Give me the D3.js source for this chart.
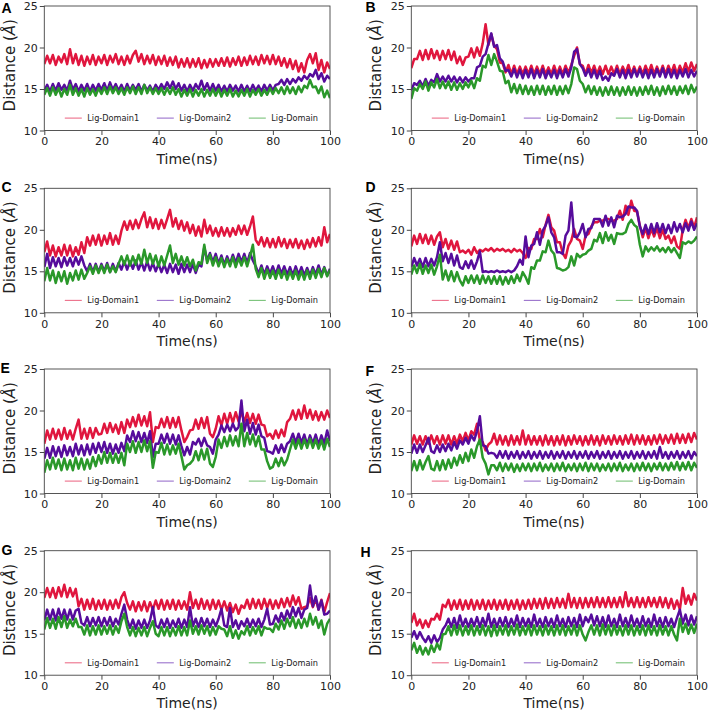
<!DOCTYPE html>
<html><head><meta charset="utf-8">
<script src="https://cdn.jsdelivr.net/npm/d3@7"></script>
<style>body{margin:0;background:#fff}svg{display:block}</style>
</head><body>
<svg id="chart" width="708" height="712"></svg>
<script>
// ---------- categories / labels ----------
const seriesNames = ["Lig-Domain1", "Lig-Domain2", "Lig-Domain"];
const panelLetters = ["A", "B", "C", "D", "E", "F", "G", "H"];
const xTickValues = [0, 20, 40, 60, 80, 100];
const yTickValues = [10, 15, 20, 25];
const timeNs = d3.range(0, 101); // 1 ns sampling, 0..100 ns

// ---------- series values (Å) (noisy traces) ----------
const A_domain1 = [18.0,19.0,18.1,19.1,17.9,18.9,18.2,19.2,18.0,19.8, 18.1,19.2,17.9,19.0,17.8,18.9,18.0,19.1,17.9,18.9, 18.1,19.1,17.9,19.0,18.2,19.2,18.0,18.9,17.9,19.0, 18.1,19.1,19.6,18.3,19.2,18.0,19.0,18.1,19.1,17.9, 18.9,18.0,19.0,17.8,18.8,17.9,18.9,17.6,18.6,17.7, 18.7,17.6,18.6,17.7,18.7,17.5,18.5,17.6,18.6,17.7, 18.6,17.8,18.7,17.8,18.8,17.7,18.7,17.9,18.9,17.8, 18.8,17.9,19.0,18.0,18.9,17.9,19.1,18.1,19.0,18.0, 19.1,18.0,18.9,17.8,18.7,17.6,18.6,17.4,18.4,17.1, 18.1,17.0,18.5,19.2,18.1,19.3,17.3,18.5,17.0,18.2, 17.4];
const A_domain2 = [14.8,15.5,14.7,15.6,14.8,15.7,14.9,15.5,14.8,16.0, 14.9,15.6,14.7,15.5,14.8,15.6,14.7,15.5,14.8,15.6, 14.9,15.7,14.8,15.8,14.9,15.6,14.8,15.5,14.7,15.6, 14.8,15.5,14.9,15.6,14.7,15.5,14.8,15.4,14.7,15.5, 14.9,15.6,15.0,15.8,15.1,15.9,15.0,15.7,14.8,15.5, 14.7,15.5,14.8,15.6,15.0,16.0,14.9,15.7,14.8,15.6, 14.8,15.5,14.7,15.4,14.7,15.5,14.8,15.4,14.7,15.5, 14.7,15.4,14.7,15.5,14.8,15.4,14.7,15.5,14.8,15.5, 14.8,15.5,15.6,16.1,15.5,16.2,15.6,16.2,15.8,16.4, 16.0,16.6,16.2,16.8,16.5,17.3,16.2,16.9,15.9,16.6, 16.2];
const A_domain = [14.3,15.1,14.2,15.2,14.3,15.1,14.1,15.0,14.3,15.5, 14.3,15.1,14.2,15.0,14.1,15.1,14.3,15.0,14.2,15.1, 14.4,15.2,14.4,15.3,14.5,15.2,14.4,15.1,14.3,15.2, 14.5,15.3,14.4,15.2,14.4,15.5,14.5,15.2,14.4,15.1, 14.4,15.1,14.3,15.1,14.4,15.2,14.3,15.0,14.1,14.9, 14.2,15.0,14.1,14.9,14.2,15.0,14.1,14.9,14.2,15.0, 14.2,15.0,14.1,14.9,14.2,15.0,14.1,14.8,14.1,14.9, 14.2,15.0,14.1,14.9,14.3,15.0,14.2,14.9,14.3,15.1, 14.4,15.1,14.5,15.2,14.4,15.3,14.5,15.2,14.4,15.3, 14.6,15.4,15.1,16.1,15.2,15.3,14.5,15.3,14.0,14.8, 13.9];

const B_domain1 = [17.5,18.6,18.6,19.6,18.5,19.7,18.6,19.8,18.7,19.6, 18.5,19.6,18.6,19.7,18.5,19.5,18.1,18.9,17.9,18.8, 18.9,19.9,18.8,20.0,19.0,20.5,22.8,20.3,21.6,20.2, 19.8,18.2,18.1,17.0,17.9,16.8,17.8,16.8,17.7,16.8, 17.7,16.8,17.8,16.8,17.7,16.8,17.8,16.8,17.6,16.8, 17.8,16.8,17.7,16.8,17.8,16.9,17.9,19.0,20.0,18.0, 17.8,16.8,17.9,16.9,17.8,16.8,17.7,16.8,17.8,16.8, 17.7,16.8,17.8,16.8,17.7,16.9,17.9,16.8,17.7,16.8, 17.7,16.8,17.8,16.9,17.9,16.8,17.7,16.8,17.8,16.8, 17.8,16.9,17.9,16.8,17.8,17.0,18.1,17.1,18.2,17.2, 18.0];
const B_domain2 = [14.8,15.7,15.5,16.0,15.3,16.2,15.4,16.1,15.8,16.8, 15.9,16.5,15.9,16.6,15.9,16.5,15.8,16.4,15.8,16.4, 15.9,16.3,16.3,17.6,17.8,18.9,19.2,20.5,21.7,20.1, 20.3,18.7,18.3,17.2,17.3,16.5,17.4,16.4,17.3,16.3, 17.3,16.4,17.4,16.3,17.3,16.4,17.4,16.3,17.2,16.4, 17.3,16.3,17.3,16.4,17.4,16.5,17.6,19.5,19.8,18.0, 17.5,16.6,17.4,16.4,17.3,16.3,17.2,16.1,16.5,16.0, 16.9,16.6,17.4,16.4,17.3,16.3,17.3,16.4,17.4,16.5, 17.4,16.4,17.3,16.3,17.3,16.4,17.4,16.5,17.5,16.4, 17.4,16.4,17.3,16.3,17.3,16.5,17.4,16.4,17.3,16.5, 17.2];
const B_domain = [13.8,15.1,14.8,15.6,15.0,15.9,14.8,15.8,15.2,16.2, 15.1,15.9,15.1,15.9,14.9,15.8,14.9,15.7,15.0,15.8, 15.2,16.0,15.1,16.3,16.0,17.8,17.6,19.1,17.9,19.2, 18.3,17.2,17.1,15.7,16.0,14.6,15.6,14.5,15.5,14.4, 15.4,14.4,15.3,14.3,15.4,14.4,15.4,14.3,15.3,14.4, 15.4,14.3,15.3,14.4,15.4,14.5,15.6,17.6,17.4,16.0, 15.6,14.6,15.4,14.4,15.3,14.3,15.2,14.2,15.2,14.3, 15.3,14.3,15.2,14.2,15.2,14.3,15.3,14.3,15.2,14.2, 15.2,14.3,15.3,14.4,15.4,14.3,15.2,14.2,15.3,14.4, 15.4,14.4,15.3,14.3,15.3,14.5,15.4,14.4,15.5,14.6, 15.3];

const C_domain1 = [17.3,18.6,16.9,18.1,16.8,17.9,16.9,18.2,16.9,18.1, 16.8,17.9,17.0,18.5,17.2,19.1,18.1,19.3,18.2,19.4, 18.1,19.3,18.3,19.6,18.2,19.3,18.3,19.9,21.0,20.0, 21.1,20.1,21.2,20.2,21.3,22.1,20.3,21.5,20.2,21.3, 20.1,21.2,20.2,21.3,22.4,20.4,21.4,20.1,21.1,19.9, 20.9,19.6,20.6,19.3,20.4,19.2,21.2,19.6,20.5,19.3, 20.2,19.2,20.3,19.3,20.2,19.2,20.2,19.4,20.5,19.5, 20.5,19.4,20.4,21.6,18.8,18.2,19.1,18.0,19.0,17.9, 18.9,17.9,19.1,18.0,18.9,17.8,18.8,17.9,18.9,17.8, 18.7,17.7,18.8,17.9,19.0,18.0,19.1,18.1,20.3,18.5, 19.5];
const C_domain2 = [15.5,17.1,15.4,16.7,15.6,16.6,15.5,16.7,15.7,16.6, 15.6,16.7,15.8,16.8,15.7,15.0,15.9,14.9,15.9,14.9, 15.9,15.0,16.0,14.9,15.9,15.0,16.0,15.2,16.2,15.2, 16.2,15.3,16.3,15.2,16.1,15.1,16.2,15.1,16.0,15.0, 15.9,14.9,15.8,14.8,15.9,14.9,15.8,14.7,15.9,14.9, 15.8,14.9,15.9,14.8,15.8,15.6,17.9,16.3,17.2,16.1, 17.1,15.9,16.9,15.8,16.8,15.9,17.0,16.0,17.1,16.1, 17.1,16.0,17.2,16.3,15.6,14.7,15.7,14.6,15.6,14.7, 15.6,14.6,15.7,14.7,15.6,14.6,15.5,14.5,15.6,14.6, 15.5,14.5,15.4,14.5,15.5,14.6,15.7,14.6,15.5,14.5, 15.3];
const C_domain = [13.8,15.4,13.9,15.1,13.6,14.9,13.8,15.0,13.5,14.8, 13.9,15.1,14.0,15.2,14.1,14.8,15.6,14.7,15.7,14.8, 15.7,14.8,15.8,14.9,15.6,14.9,15.9,16.8,15.8,16.9, 15.7,16.8,15.8,17.0,15.9,17.6,16.0,17.1,15.9,16.9, 15.6,16.8,15.7,16.9,18.1,16.0,17.1,15.8,16.8,15.7, 16.7,15.6,16.4,15.1,16.1,15.9,18.2,16.0,17.0,15.7, 16.7,15.6,16.6,15.5,16.5,15.6,16.7,15.5,16.6,15.7, 16.7,15.6,16.8,18.2,15.3,14.3,15.4,14.1,15.2,14.2, 15.1,14.1,15.2,14.2,15.1,14.0,15.0,14.1,15.1,14.0, 15.0,14.0,15.1,14.1,15.2,14.2,15.3,14.3,15.4,14.4, 15.2];

const D_domain1 = [18.0,19.3,18.3,19.5,18.4,19.4,18.3,19.3,18.2,19.2, 19.7,17.9,18.9,17.7,18.7,17.6,18.6,17.3,17.5,17.2, 17.6,17.0,17.9,17.2,17.6,17.4,17.7,17.5,17.8,17.4, 17.7,17.5,17.7,17.4,17.6,17.3,17.7,17.4,17.6,17.2, 16.6,17.8,17.7,18.9,18.9,20.1,19.1,20.6,21.8,20.3, 19.9,18.5,18.5,17.2,16.6,18.1,18.7,20.1,18.9,18.7, 17.7,19.3,19.5,20.4,20.9,20.9,21.1,21.1,21.3,21.3, 21.1,21.1,21.3,22.3,21.2,22.9,21.8,23.5,22.3,22.2, 20.5,19.1,20.2,19.0,20.1,19.2,20.2,19.0,20.0,18.9, 19.3,18.4,19.2,18.0,17.7,20.0,21.2,20.2,21.3,20.3, 21.5];
const D_domain2 = [15.5,16.6,15.7,16.5,15.5,16.6,15.6,16.5,15.7,16.7, 18.5,16.2,17.2,16.0,17.1,15.7,16.9,15.5,15.3,16.2, 15.4,16.3,15.3,16.2,17.4,14.9,15.0,14.9,15.0,14.9, 15.1,14.9,15.0,14.9,15.1,14.9,15.1,15.6,16.4,15.8, 19.2,16.7,18.1,18.3,19.7,18.2,19.9,20.5,21.5,19.7, 19.1,17.3,17.3,17.1,19.3,19.9,23.3,19.2,19.1,19.7, 20.7,19.1,20.1,20.2,21.3,21.3,21.3,20.4,21.7,20.5, 21.5,20.3,21.7,21.5,21.6,21.9,22.8,22.7,22.7,22.3, 20.4,19.5,20.6,19.5,20.7,19.6,20.8,19.7,20.7,19.6, 20.6,19.6,20.9,19.8,20.7,19.7,20.8,19.9,21.0,20.0, 20.8];
const D_domain = [14.6,15.7,14.8,15.9,14.7,15.7,14.8,15.8,14.6,15.6, 17.0,14.0,15.1,13.9,15.0,13.8,14.9,13.9,13.3,14.4, 13.6,14.5,13.6,14.5,13.5,14.5,13.6,14.4,13.5,14.4, 13.5,14.4,13.4,14.3,13.5,14.4,13.6,14.6,13.8,14.9, 14.3,13.5,15.5,15.3,16.3,16.3,17.4,17.3,18.7,17.5, 17.1,15.4,15.3,15.1,15.2,15.5,16.8,15.7,17.1,16.7, 17.0,17.1,17.5,17.7,18.8,18.6,19.6,18.4,19.7,18.7, 19.4,18.3,19.6,19.5,19.5,19.7,20.7,21.2,20.6,20.3, 18.2,16.8,18.0,17.4,17.9,17.5,18.0,17.4,17.8,17.3, 17.9,17.3,17.8,17.2,16.6,18.5,18.3,18.6,18.4,18.7, 19.2];

const E_domain1 = [16.0,17.6,16.5,17.8,16.6,17.7,16.5,17.9,16.6,17.6, 16.5,17.8,18.9,16.6,17.8,16.6,17.9,16.7,17.9,17.1, 17.2,18.4,17.3,18.5,17.4,18.3,17.2,18.6,17.3,18.9, 18.0,19.2,18.1,19.5,18.2,19.3,18.1,19.8,16.2,18.0, 17.9,19.0,18.0,19.2,17.9,19.1,18.0,19.2,17.6,16.2, 16.8,17.6,17.7,18.9,17.8,19.1,17.9,19.2,17.2,16.8, 17.8,19.3,18.2,19.6,18.4,19.7,18.5,19.8,18.7,19.9, 18.6,19.7,18.5,19.6,18.4,19.5,18.3,18.2,16.9,17.2, 16.6,17.6,16.7,17.7,16.9,18.6,19.0,20.0,18.9,20.1, 19.0,20.6,19.1,20.1,18.9,19.9,18.8,19.8,18.9,20.0, 19.1];
const E_domain2 = [14.2,15.5,14.3,15.7,14.5,15.6,14.4,15.8,14.6,15.6, 14.5,16.0,14.7,15.8,14.6,15.9,14.7,16.0,14.9,16.1, 15.0,16.2,14.9,16.0,14.8,15.9,14.9,16.1,15.1,17.0, 16.2,17.5,16.3,17.4,16.2,17.3,16.1,17.5,14.4,16.0, 16.0,17.1,16.1,17.2,16.0,17.1,15.9,17.0,15.7,14.6, 15.6,14.7,16.2,15.9,16.6,15.7,16.7,15.8,15.6,14.8, 16.5,17.1,18.2,17.4,18.3,17.5,18.4,17.6,18.0,21.2, 17.5,18.9,17.2,18.5,17.1,18.3,16.9,16.7,15.1,15.0, 14.8,15.8,14.9,15.9,15.0,16.0,16.3,17.2,16.1,17.2, 16.1,17.1,15.9,17.0,16.0,17.1,15.9,17.0,16.0,17.6, 16.3];
const E_domain = [12.5,14.0,12.9,14.3,13.0,14.1,12.8,14.2,12.9,14.0, 12.8,14.3,13.0,14.2,12.9,14.1,13.0,14.4,13.3,14.6, 13.6,15.0,13.7,14.9,13.7,14.8,13.7,14.9,13.4,16.0, 15.0,16.3,14.9,16.2,15.0,16.4,15.1,16.3,13.1,15.0, 14.9,16.1,14.7,15.9,14.7,15.8,14.8,16.0,14.5,12.9, 13.4,13.6,14.0,15.1,14.0,15.3,14.1,15.4,13.6,13.2, 14.4,16.5,15.5,16.8,15.7,17.0,15.8,16.9,15.7,18.4, 15.7,17.3,15.9,17.1,15.7,16.9,15.3,15.3,13.9,13.0, 13.2,14.2,13.3,14.3,13.4,14.1,15.3,16.5,15.4,16.5, 15.4,16.5,15.5,16.6,15.5,16.5,15.4,16.4,15.3,16.6, 15.6];

const F_domain1 = [15.9,17.0,16.0,16.9,15.9,16.9,16.0,17.0,16.0,16.9, 15.9,17.0,16.0,17.0,15.9,16.9,16.0,17.1,16.3,17.3, 16.4,17.5,17.1,18.4,16.4,16.2,15.2,15.9,16.2,17.2, 15.9,17.0,15.9,16.9,15.8,17.0,15.9,16.9,15.9,17.6, 15.9,17.0,15.9,16.9,15.9,16.9,15.8,17.0,15.9,16.9, 15.8,16.9,15.9,17.0,15.8,16.9,15.9,17.0,16.0,16.9, 15.8,16.9,15.9,17.0,15.9,16.9,15.8,17.0,16.0,16.9, 15.9,17.0,16.0,16.9,15.9,17.0,16.0,17.1,15.9,17.0, 16.0,17.0,15.9,16.9,15.9,17.0,16.0,17.1,16.0,17.0, 16.1,17.1,16.0,17.2,16.1,17.1,16.1,17.2,16.2,17.3, 16.5];
const F_domain2 = [14.8,15.9,14.9,15.9,15.0,15.8,16.7,15.1,14.9,15.8, 15.0,15.9,15.1,16.0,15.2,16.2,15.4,16.4,15.9,16.7, 16.0,17.0,16.4,17.5,19.3,15.8,15.7,14.8,14.9,14.8, 14.3,15.1,14.3,15.1,14.2,15.0,14.3,15.1,14.2,15.0, 14.3,15.1,14.2,15.0,14.3,15.1,14.2,15.0,14.3,15.1, 14.2,15.0,14.3,15.1,14.2,15.0,14.3,15.1,14.2,15.0, 14.3,15.1,14.2,15.0,14.3,15.1,14.2,15.0,14.3,15.1, 14.2,15.0,14.3,15.1,14.2,15.0,14.3,15.1,14.2,15.0, 14.3,15.1,14.2,15.0,14.3,15.1,14.2,15.6,14.3,15.0, 14.2,15.0,14.3,15.1,14.2,15.0,14.3,15.1,14.2,15.0, 14.5];
const F_domain = [12.7,13.9,12.8,14.0,12.9,13.8,14.5,13.0,12.8,13.9, 12.8,14.0,12.9,14.1,13.1,14.3,13.4,14.6,13.7,14.9, 13.9,15.3,14.3,15.7,16.5,14.3,13.6,12.3,13.4,13.4, 12.8,13.7,12.7,13.6,12.8,13.6,12.6,13.5,12.7,13.6, 12.8,13.6,12.7,13.6,12.8,13.7,12.7,13.5,12.8,13.6, 12.7,13.6,12.8,13.7,12.7,13.5,12.8,13.6,12.7,13.6, 12.8,13.7,12.7,13.6,12.8,13.6,12.7,13.5,12.8,13.6, 12.7,13.6,12.8,13.7,12.7,13.5,12.8,13.6,12.7,13.6, 12.8,13.7,12.8,13.6,12.7,13.6,12.9,13.7,12.8,13.6, 12.8,13.7,12.9,13.8,12.8,13.7,12.9,13.8,12.8,13.7, 13.1];

const G_domain1 = [19.3,20.5,19.4,20.5,19.3,20.6,19.5,20.9,19.4,20.5, 19.5,20.4,18.3,19.2,17.9,19.1,18.0,19.2,17.9,19.0, 18.0,19.1,17.9,19.0,18.0,19.1,18.1,19.4,20.0,18.7, 17.9,18.9,17.7,18.8,17.8,18.9,17.7,18.8,17.9,19.0, 18.0,19.1,17.9,19.0,18.0,19.1,17.9,19.0,18.0,18.9, 17.9,20.0,18.1,19.1,18.0,19.2,18.0,19.0,17.9,19.1, 18.0,19.0,17.9,18.9,17.8,18.7,17.6,18.5,17.4,18.4, 18.1,19.1,18.0,19.2,18.1,19.1,18.0,19.2,18.1,19.1, 18.0,19.0,18.1,19.2,18.2,19.3,18.3,19.6,18.5,19.4, 18.0,18.2,18.3,19.3,18.2,19.2,17.9,19.1,17.6,18.8, 19.9];
const G_domain2 = [16.6,17.9,16.7,17.9,16.6,18.0,16.8,17.9,16.7,17.9, 16.7,17.8,18.0,16.3,16.0,17.0,15.9,16.9,16.0,17.0, 15.9,16.9,16.0,17.0,15.9,16.8,16.1,17.4,18.5,16.7, 15.7,16.7,15.6,16.6,15.7,16.7,15.7,16.6,18.2,16.0, 15.7,16.7,15.8,16.8,15.7,16.6,15.8,16.8,15.7,16.7, 15.8,18.2,15.9,16.8,15.8,16.9,15.9,16.8,15.8,16.7, 15.9,16.8,18.0,16.0,15.8,18.1,15.8,16.6,15.6,16.5, 15.9,16.8,15.8,16.7,15.9,16.8,15.8,16.7,18.0,16.1, 16.2,17.2,16.4,17.5,16.6,17.8,16.9,18.2,17.1,18.1, 16.9,17.9,18.1,20.8,18.3,19.5,17.9,19.0,17.3,17.4, 17.8];
const G_domain = [15.5,16.9,15.7,16.8,15.6,17.0,15.8,17.1,15.7,16.7, 15.9,16.8,15.8,15.8,14.9,16.0,14.8,15.9,14.9,16.0, 14.9,15.9,15.0,16.0,14.9,15.9,15.1,16.5,17.4,15.8, 14.8,15.8,14.7,15.7,14.8,15.8,14.7,15.7,16.5,15.0, 14.7,15.8,14.8,15.8,14.7,15.7,14.8,15.9,14.8,15.8, 14.8,16.6,15.0,15.9,14.9,16.0,15.0,15.9,14.8,15.8, 14.9,15.9,15.6,15.5,14.7,15.9,14.5,15.4,14.4,15.3, 14.9,15.9,14.8,15.8,15.0,15.9,14.8,15.8,15.6,15.6, 15.2,16.2,15.5,16.6,15.6,16.8,15.9,17.0,15.7,16.7, 15.7,16.8,15.9,17.4,16.1,17.0,15.7,16.6,14.9,16.2, 16.8];

const H_domain1 = [16.3,17.4,16.0,16.7,15.7,16.6,15.8,16.8,16.7,17.4, 16.7,18.5,18.2,19.1,17.9,19.0,18.0,19.1,17.9,19.0, 18.0,19.1,17.9,19.0,18.0,19.1,17.9,19.0,18.0,19.1, 17.9,19.0,18.0,19.1,17.9,19.0,18.0,19.1,17.9,19.0, 18.0,19.1,18.0,19.2,18.1,19.2,18.0,19.3,18.1,19.2, 18.1,19.3,18.2,19.2,18.1,19.8,18.2,19.3,18.1,19.3, 18.1,19.3,18.2,19.3,18.2,19.4,18.2,19.3,18.2,19.4, 18.2,19.3,18.2,19.4,18.2,20.0,18.3,19.3,18.2,19.4, 18.2,19.3,18.2,19.4,18.3,19.3,18.2,19.4,18.2,19.3, 18.1,19.2,18.0,19.0,17.9,20.5,18.6,19.6,18.5,19.8, 19.0];
const H_domain2 = [14.5,15.3,14.4,15.2,14.5,14.0,14.7,13.9,14.8,14.0, 14.5,15.5,16.0,16.8,15.8,16.9,15.7,17.2,15.9,16.8, 15.8,16.8,15.9,17.0,15.8,16.9,15.9,17.4,15.8,16.8, 15.8,16.9,15.9,17.0,15.8,16.8,15.9,17.2,15.8,16.9, 15.9,16.8,15.8,17.3,15.9,16.8,15.8,17.0,15.9,16.8, 15.8,17.2,15.9,16.8,15.8,17.0,15.9,16.9,15.8,17.3, 15.9,17.0,16.4,17.3,16.0,17.1,15.9,17.0,15.8,17.2, 15.9,16.8,15.8,17.3,15.9,16.9,15.8,17.2,15.9,16.8, 15.8,17.1,15.9,16.8,15.8,17.3,15.9,16.9,15.8,17.0, 15.9,16.8,15.8,16.9,17.9,16.2,17.3,16.0,17.2,16.1, 17.1];
const H_domain = [13.0,13.9,12.7,13.5,12.5,13.3,12.5,13.6,12.8,13.8, 13.1,14.9,15.0,15.9,14.8,16.0,14.9,16.0,14.8,15.9, 14.9,16.0,14.8,15.9,14.9,16.0,14.8,15.9,14.7,16.0, 14.8,15.9,14.9,16.0,14.8,15.9,14.9,16.1,14.8,15.9, 14.9,16.0,14.8,16.0,14.9,15.9,14.8,16.0,14.9,15.9, 14.8,16.0,14.9,16.0,14.8,15.9,14.9,16.0,14.8,16.0, 14.9,14.2,15.2,16.0,14.9,16.0,14.8,16.1,14.9,16.0, 14.8,16.0,14.9,15.9,14.8,16.0,14.9,16.0,14.8,15.9, 14.9,16.0,14.8,16.0,14.9,15.9,14.8,16.0,14.9,15.9, 14.8,15.9,14.9,14.2,16.8,15.2,16.2,15.0,16.1,15.1, 16.2];

// ---------- assemble panels from the arrays ----------
const panelSeries = [
  [A_domain1, A_domain2, A_domain], [B_domain1, B_domain2, B_domain],
  [C_domain1, C_domain2, C_domain], [D_domain1, D_domain2, D_domain],
  [E_domain1, E_domain2, E_domain], [F_domain1, F_domain2, F_domain],
  [G_domain1, G_domain2, G_domain], [H_domain1, H_domain2, H_domain]
];

// ---------- styling / layout ----------
const colors = ["#e0163e", "#560c9c", "#2a982a"];
const legendColors = ["#ec6f8a", "#9a72cc", "#79c279"];
const colLeft = [44.3, 411.3];
const rowTop = [6, 188.3, 369, 550.7];
const plotW = 285.7, plotH = 124.5;
const yLabelX = [10, 376];
const letterX = [1.5, 365.5, 1.5, 365.5, 0.5, 365.5, 1.5, 360.5];
const letterDy = [6.7, 5.7, 3.6, 4.0, 3.7, 7.0, 4.3, 6.0];
const fontFam = "'DejaVu Sans', sans-serif";

const svg = d3.select("#chart");

panelSeries.forEach((series, i) => {
  const col = i % 2, row = Math.floor(i / 2);
  const left = colLeft[col], top = rowTop[row];
  const g = svg.append("g").attr("transform", `translate(${left},${top})`);

  const x = d3.scaleLinear().domain([0, 100]).range([0, plotW]);
  const y = d3.scaleLinear().domain([10, 25]).range([plotH, 0]);

  // data lines (clipped to plot)
  const clipId = "clip" + i;
  g.append("clipPath").attr("id", clipId).append("rect")
    .attr("width", plotW).attr("height", plotH);
  const line = d3.line().x((d, k) => x(timeNs[k])).y(d => y(d));
  const lg = g.append("g").attr("clip-path", `url(#${clipId})`);
  series.forEach((vals, s) => {
    lg.append("path").datum(vals)
      .attr("fill", "none").attr("stroke", colors[s])
      .attr("stroke-width", 2.5).attr("stroke-linejoin", "round")
      .attr("d", line);
  });

  // axes
  const xAxis = g.append("g").attr("transform", `translate(0,${plotH})`)
    .call(d3.axisBottom(x).tickValues(xTickValues).tickSize(4.5).tickPadding(2.5).tickSizeOuter(0));
  const yAxis = g.append("g")
    .call(d3.axisLeft(y).tickValues(yTickValues).tickSize(4.5).tickPadding(2).tickSizeOuter(0));
  [xAxis, yAxis].forEach(a => {
    a.select(".domain").remove();
    a.selectAll("line").attr("stroke", "#333").attr("stroke-width", 0.9);
    a.selectAll("text").attr("fill", "#222").style("font-family", fontFam).style("font-size", "11px");
  });

  // frame
  g.append("rect").attr("width", plotW).attr("height", plotH)
    .attr("fill", "none").attr("stroke", "#444").attr("stroke-width", 0.9);

  // axis titles
  g.append("text").attr("x", plotW / 2).attr("y", plotH + 33)
    .attr("text-anchor", "middle").attr("fill", "#222")
    .style("font-family", fontFam).style("font-size", "14px")
    .text("Time(ns)");
  const yl = svg.append("text")
    .attr("transform", `translate(${yLabelX[col]},${top + plotH / 2 - 3}) rotate(-90)`)
    .attr("text-anchor", "middle").attr("dy", "0.35em").attr("fill", "#222")
    .style("font-family", fontFam).style("font-size", "15px");
  yl.append("tspan").text("Distance (");
  yl.append("tspan").style("font-style", "italic").text("Å");
  yl.append("tspan").text(")");

  // legend
  const legX = [20.5, 112.5, 204.5];
  const leg = g.append("g").attr("transform", `translate(0,${plotH - 12.4})`);
  seriesNames.forEach((name, s) => {
    leg.append("line").attr("x1", legX[s]).attr("x2", legX[s] + 17)
      .attr("stroke", legendColors[s]).attr("stroke-width", 1.1);
    leg.append("text").attr("x", legX[s] + 22.5).attr("dy", "0.35em")
      .attr("fill", "#222").style("font-family", fontFam).style("font-size", "8.2px")
      .text(name);
  });

  // panel letter
  svg.append("text").attr("x", letterX[i])
    .attr("y", top + letterDy[i])
    .attr("fill", "#000").style("font-family", "'Liberation Sans', Arial, sans-serif")
    .style("font-weight", "bold").style("font-size", "14px")
    .text(panelLetters[i]);
});
</script>
</body></html>
